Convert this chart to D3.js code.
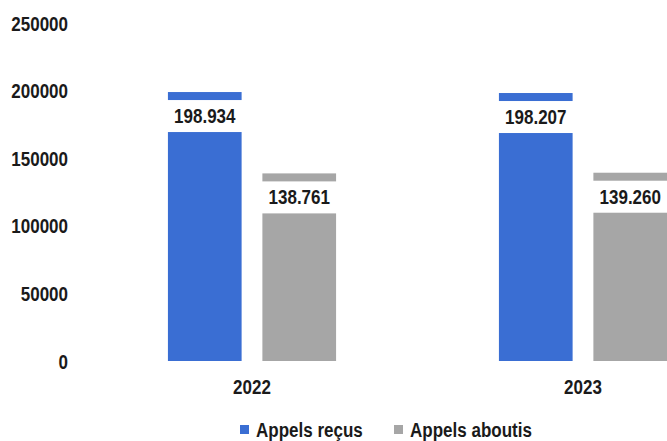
<!DOCTYPE html>
<html>
<head>
<meta charset="utf-8">
<script src="https://cdn.jsdelivr.net/npm/d3@7"></script>
<style>
  html, body { margin: 0; padding: 0; background: #ffffff; }
  svg { display: block; }
  text { font-family: "Liberation Sans", Arial, sans-serif; font-weight: bold; fill: #1a1a1a; }
</style>
</head>
<body>
<svg id="chart" width="667" height="441"></svg>
<script>
// Call volumes per year
const years = ["2022", "2023"];
const seriesNames = ["Appels reçus", "Appels aboutis"];
const appelsRecus = [198934, 198207];
const appelsAboutis = [138761, 139260];
const valueLabels = [["198.934", "138.761"], ["198.207", "139.260"]];
const yTicks = [0, 50000, 100000, 150000, 200000, 250000];
const colors = ["#3a6ed3", "#a6a6a6"];

// Condensed bold look: tall glyphs squeezed horizontally
const SQUEEZE = 0.85;

const svg = d3.select("#chart");

const x = d3.scaleBand().domain(years).range([86.5, 748.5])
  .paddingInner(0.492).paddingOuter(0.246);
const xSub = d3.scaleBand().domain(seriesNames).range([0, x.bandwidth()])
  .paddingInner(0.22).paddingOuter(0);
const y = d3.scaleLinear().domain([0, 250000]).range([361, 23]);

// Y axis: labels only
const yAxis = svg.append("g")
  .attr("transform", "translate(68,0)")
  .call(d3.axisLeft(y).tickValues(yTicks).tickSize(0).tickPadding(0).tickFormat(d3.format("d")));
yAxis.select(".domain").remove();
yAxis.selectAll("text").attr("font-size", 20).attr("font-family", null)
  .attr("dy", "0.35em").attr("transform", `scale(${SQUEEZE},1)`);

// X axis: year labels
const xAxis = svg.append("g")
  .attr("transform", "translate(0,387)")
  .call(d3.axisBottom(x).tickSize(0).tickPadding(0));
xAxis.select(".domain").remove();
xAxis.selectAll("text").attr("font-size", 20).attr("font-family", null)
  .attr("dy", "0.35em").attr("transform", `scale(${SQUEEZE},1)`);

const rows = years.map((yr, i) => ({
  year: yr,
  values: [appelsRecus[i], appelsAboutis[i]],
  labels: valueLabels[i]
}));

const groups = svg.selectAll("g.year").data(rows).join("g")
  .attr("class", "year")
  .attr("transform", d => `translate(${x(d.year)},0)`);

const items = groups.selectAll("g.bar")
  .data(d => d.values.map((v, j) => ({ name: seriesNames[j], value: v, label: d.labels[j], color: colors[j] })))
  .join("g").attr("class", "bar");

items.append("rect")
  .attr("x", d => xSub(d.name))
  .attr("y", d => y(d.value))
  .attr("width", xSub.bandwidth())
  .attr("height", d => y(0) - y(d.value))
  .attr("fill", d => d.color);

// White label boxes cut into the top of each bar
items.append("rect")
  .attr("x", d => xSub(d.name) - 3)
  .attr("y", d => y(d.value) + 8)
  .attr("width", xSub.bandwidth() + 6)
  .attr("height", 32)
  .attr("fill", "#ffffff");

items.append("text")
  .attr("transform", d => `translate(${xSub(d.name) + xSub.bandwidth() / 2},${y(d.value) + 24}) scale(${SQUEEZE},1)`)
  .attr("dy", "0.35em")
  .attr("text-anchor", "middle")
  .attr("font-size", 20)
  .text(d => d.label);

// Legend
const legend = svg.append("g").attr("transform", "translate(0,429.5)");
const legendX = [240, 394];
seriesNames.forEach((name, j) => {
  legend.append("rect")
    .attr("x", legendX[j]).attr("y", -4.5)
    .attr("width", 9).attr("height", 9)
    .attr("fill", colors[j]);
  legend.append("text")
    .attr("transform", `translate(${legendX[j] + 16},0) scale(0.83,1)`)
    .attr("dy", "0.35em")
    .attr("font-size", 20.5)
    .text(name);
});
</script>
</body>
</html>
